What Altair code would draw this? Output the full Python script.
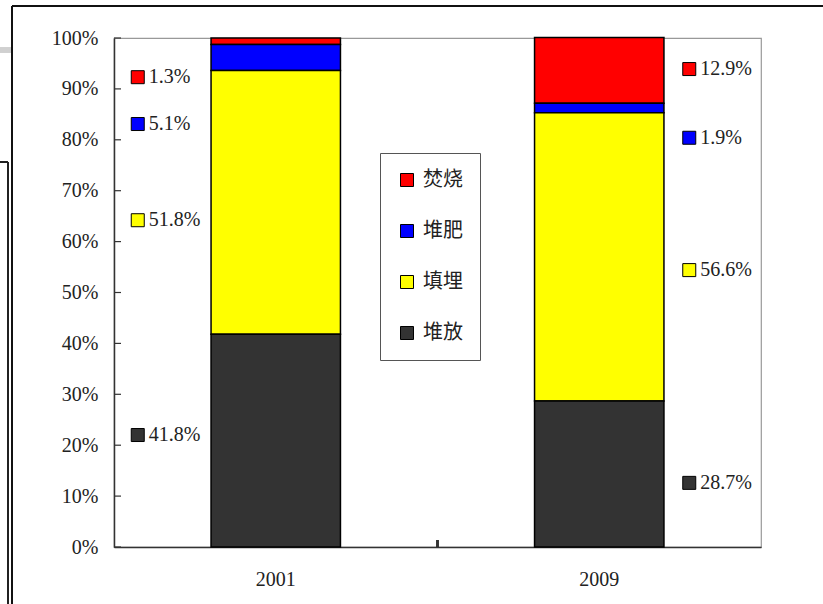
import altair as alt
import pandas as pd

years = ["2001", "2009"]
methods = ["焚烧", "堆肥", "填埋", "堆放"]
colors = ["#FF0000", "#0000FF", "#FFFF00", "#333333"]
v2001 = [1.3, 5.1, 51.8, 41.8]
v2009 = [12.9, 1.9, 56.6, 28.7]
stack_rank = [3, 2, 1, 0]
# where each data label sits (in % of the y axis)
label_at_2001 = [92.3, 83.1, 64.2, 22.0]
label_at_2009 = [93.9, 80.4, 54.4, 12.6]
y_ticks = [0, 10, 20, 30, 40, 50, 60, 70, 80, 90, 100]

rows = []
for yr, vals, labs in [("2001", v2001, label_at_2001), ("2009", v2009, label_at_2009)]:
    for m, c, v, r, lp in zip(methods, colors, vals, stack_rank, labs):
        rows.append({"year": yr, "method": m, "color": c, "value": v,
                     "rank": r, "lab": lp, "text": f"{v}%"})
df = pd.DataFrame(rows)
ticks_df = pd.DataFrame({"t": y_ticks})

SERIF = "Liberation Serif"
CJK = "Noto Sans CJK SC"

xscale = alt.Scale(domain=years, paddingInner=0.6, paddingOuter=0.3)
yscale = alt.Scale(domain=[0, 100], nice=False)

bars = alt.Chart(df).mark_bar(stroke="black", strokeWidth=1.5).encode(
    x=alt.X("year:N", scale=xscale,
            axis=alt.Axis(title=None, labelAngle=0, ticks=False, labelFont=SERIF,
                          labelFontSize=20, labelColor="#222", labelPadding=22,
                          domainColor="#333", domainWidth=1.5)),
    y=alt.Y("value:Q", stack="zero", scale=yscale,
            axis=alt.Axis(title=None, values=y_ticks, ticks=False, grid=False,
                          labelExpr="datum.value + '%'", labelFont=SERIF,
                          labelFontSize=20, labelColor="#222", labelPadding=16,
                          domainColor="#333", domainWidth=1.5)),
    color=alt.Color("method:N", scale=alt.Scale(domain=methods, range=colors),
                    legend=alt.Legend(title=None, orient="none", legendX=266, legendY=115,
                                      strokeColor="#555", padding=17,
                                      fillColor="white",
                                      symbolType="square", symbolSize=169,
                                      symbolStrokeColor="black", symbolStrokeWidth=1,
                                      labelFont=CJK, labelFontSize=20, labelColor="#222",
                                      labelOffset=6, rowPadding=31)),
    order=alt.Order("rank:Q", sort="ascending"),
)

def label_layers(yr, off):
    sub = alt.Chart(df).transform_filter(alt.datum.year == yr)
    sq = sub.mark_square(size=169, stroke="black", strokeWidth=1, filled=True,
                         opacity=1, xOffset=off).encode(
        x=alt.X("year:N", scale=xscale),
        y=alt.Y("lab:Q", scale=yscale),
        fill=alt.Fill("color:N", scale=None),
    )
    tx = sub.mark_text(align="left", baseline="middle", font=SERIF, fontSize=20,
                       color="#222", xOffset=off + 11).encode(
        x=alt.X("year:N", scale=xscale),
        y=alt.Y("lab:Q", scale=yscale),
        text="text:N",
    )
    return [sq, tx]

ticks = alt.Chart(ticks_df).mark_rule(color="#333", strokeWidth=1.2).encode(
    y=alt.Y("t:Q", scale=yscale), x=alt.value(0), x2=alt.value(7))

mid_tick = alt.Chart(ticks_df).mark_rule(color="#333", strokeWidth=1.5).encode(
    x=alt.value(323.5), y=alt.value(502), y2=alt.value(509))

# page frame decorations around the chart
frame_top = alt.Chart(ticks_df).mark_rule(color="#111", strokeWidth=2).encode(
    x=alt.value(-102), x2=alt.value(709), y=alt.value(-32))
frame_left = alt.Chart(ticks_df).mark_rule(color="#111", strokeWidth=2).encode(
    x=alt.value(-102), y=alt.value(-32), y2=alt.value(566))
gray_band = alt.Chart(ticks_df).mark_rule(color="#d0d0d0", strokeWidth=5).encode(
    x=alt.value(-114), x2=alt.value(-103), y=alt.value(12))
box_v = alt.Chart(ticks_df).mark_rule(color="#222", strokeWidth=1.2).encode(
    x=alt.value(-106), y=alt.value(124), y2=alt.value(566))
box_h = alt.Chart(ticks_df).mark_rule(color="#222", strokeWidth=1.2).encode(
    x=alt.value(-114), x2=alt.value(-106), y=alt.value(124))

layers = [bars] + label_layers("2001", -138) + label_layers("2009", 90) + \
         [ticks, mid_tick, frame_top, frame_left, gray_band, box_v, box_h]

chart = alt.layer(*layers).properties(
    width=647, height=509,
    padding={"left": 114, "top": 38, "right": 62, "bottom": 57},
    autosize=alt.AutoSizeParams(type="none"),
    background="white",
).configure_view(stroke="#999", strokeWidth=1.2)

chart.save("out.html", embed_options={"renderer": "svg", "actions": False})
